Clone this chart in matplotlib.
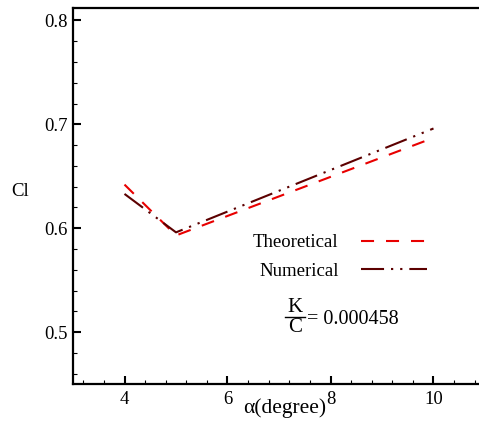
import matplotlib
matplotlib.use("Agg")
import matplotlib.pyplot as plt
from matplotlib.ticker import MultipleLocator

plt.rcParams['font.family'] = ['Liberation Serif', 'DejaVu Serif']
plt.rcParams['mathtext.fontset'] = 'custom'
plt.rcParams['mathtext.rm'] = 'Liberation Serif'
plt.rcParams['lines.scale_dashes'] = False

# Data
alpha_theo = [4, 5, 10]
cl_theo = [0.642, 0.593, 0.687]
alpha_num = [4, 5, 10]
cl_num = [0.633, 0.596, 0.696]
series_labels = ["Theoretical", "Numerical"]
x_ticks = [4, 6, 8, 10]
y_ticks = [0.5, 0.6, 0.7, 0.8]

W, H = 479, 438
fig = plt.figure(figsize=(W / 100, H / 100), dpi=100)
L, R, T, B = 73, 485, 8, 384
ax = fig.add_axes([L / W, 1 - B / H, (R - L) / W, (B - T) / H])

red = '#e80000'
dark = '#5c0000'
ax.plot(alpha_theo, cl_theo, color=red, lw=1.5, dashes=(9.4, 8.6),
        label=series_labels[0], solid_capstyle='butt', dash_capstyle='butt')
ax.plot(alpha_num, cl_num, color=dark, lw=1.5,
        dashes=(16.6, 5.0, 1.6, 5.0, 1.6, 5.0),
        label=series_labels[1], dash_capstyle='butt')

ax.set_xlim(3, 11)
ax.set_ylim(0.45, 0.812)
ax.set_xticks(x_ticks)
ax.set_yticks(y_ticks)
ax.set_xticklabels([str(v) for v in x_ticks])
ax.set_yticklabels([f"{v:.1f}" for v in y_ticks])
ax.xaxis.set_minor_locator(MultipleLocator(0.4))
ax.yaxis.set_minor_locator(MultipleLocator(0.02))

for s in ['left', 'bottom', 'top']:
    ax.spines[s].set_linewidth(1.6)
ax.spines['right'].set_visible(False)
ax.tick_params(which='major', direction='in', length=6, width=1.5,
               labelsize=13.5, top=False, right=False)
ax.tick_params(which='minor', direction='in', length=3, width=0.8,
               top=False, right=False)
ax.tick_params(axis='x', which='major', pad=5)
ax.tick_params(axis='y', which='major', pad=4)

ax.set_ylabel("Cl", rotation=0, fontsize=13.5, ha='center', va='center')
ax.yaxis.set_label_coords((20 - L) / (R - L), (B - 191.7) / (B - T))
ax.set_xlabel("α(degree)", fontsize=15.5, ha='center', va='center')
ax.xaxis.set_label_coords((285 - L) / (R - L), (B - 408) / (B - T))

leg = ax.legend(loc='upper left', markerfirst=False, frameon=False,
                fontsize=13.5, handlelength=3.5, handletextpad=1.2,
                labelspacing=0.62, borderpad=0, borderaxespad=0,
                bbox_to_anchor=((253 - L) / (R - L), (B - 234) / (B - T)))

def fx(px):
    return px / W

def fy(py):
    return 1 - py / H

fig.text(fx(295), fy(307), "K", fontsize=15, ha='center', va='center')
fig.text(fx(295), fy(328), "C", fontsize=15, ha='center', va='center')
fig.add_artist(plt.Line2D([fx(285), fx(305)], [fy(317), fy(317)],
                          color='black', lw=1.0))
fig.text(fx(307), fy(320), "= 0.000458", fontsize=14.5, ha='left', va='center')

fig.savefig("out.png", dpi=100)
